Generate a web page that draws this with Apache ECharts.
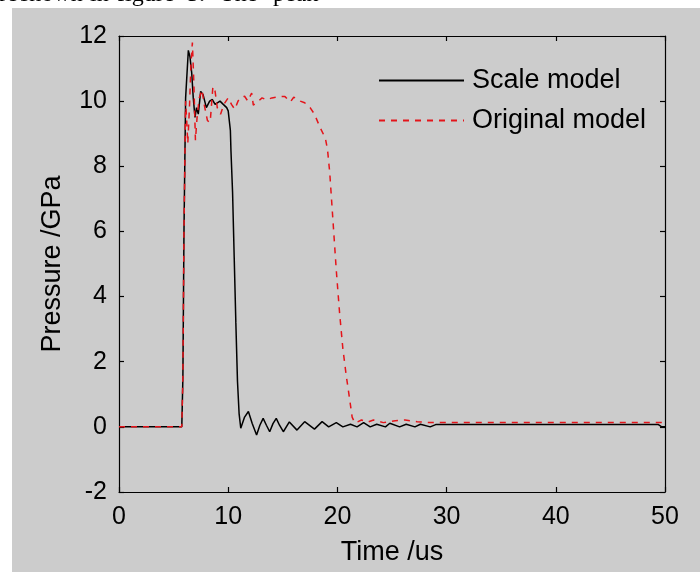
<!DOCTYPE html>
<html>
<head>
<meta charset="utf-8">
<script src="https://cdn.jsdelivr.net/npm/echarts@6/dist/echarts.min.js"></script>
<style>
html,body{margin:0;padding:0;background:#ffffff;}
#chart{width:700px;height:572px;}
</style>
</head>
<body>
<div id="chart"></div>
<script>
// Scale model (black solid)
const scaleT = [0, 5.75, 5.85, 5.95, 6.1, 6.2, 6.35, 6.5, 6.66, 6.8, 6.96, 7.1, 7.26, 7.48, 7.7, 8.0, 8.3, 8.55, 8.8, 9.25, 9.55, 9.86, 10.0, 10.2, 10.25, 10.4, 10.55, 10.7, 10.85, 11.0, 11.15, 11.5, 11.85, 12.2, 12.6, 12.9, 13.2, 13.5, 13.8, 14.1, 14.4, 14.7, 15.05, 15.6, 16.3, 17.0, 17.9, 18.6, 19.2, 19.9, 20.5, 21.2, 21.8, 22.4, 23.0, 23.6, 24.4, 24.8, 25.7, 26.3, 27.1, 27.6, 28.5, 29.0, 49.4, 49.7, 50];
const scaleP = [0, 0, 1.5, 6, 10.1, 10.1, 11.56, 11.36, 10.86, 10.1, 9.5, 9.8, 9.6, 10.3, 10.2, 9.8, 10.0, 10.05, 9.9, 10.0, 9.9, 9.8, 9.7, 9.1, 8.5, 7.2, 5.2, 3.2, 1.4, 0.4, -0.04, 0.3, 0.47, 0.1, -0.25, 0.05, 0.26, 0.05, -0.15, 0.1, 0.26, 0.05, -0.15, 0.15, -0.1, 0.16, -0.07, 0.16, 0.0, 0.13, 0.0, 0.08, 0.0, 0.13, 0.0, 0.08, 0.0, 0.11, 0.0, 0.08, 0.0, 0.08, 0.0, 0.07, 0.07, 0.0, 0.0];

// Original model (red dashed)
const origT = [0, 5.75, 5.85, 5.95, 6.1, 6.2, 6.3, 6.45, 6.6, 6.72, 6.85, 7.0, 7.15, 7.35, 7.6, 7.8, 8.1, 8.35, 8.6, 8.8, 9.0, 9.3, 9.6, 10.0, 10.3, 10.6, 10.9, 11.1, 11.5, 11.8, 12.15, 12.3, 12.7, 13.1, 13.5, 14.0, 14.7, 15.2, 15.7, 16.0, 16.4, 16.6, 17.0, 17.5, 17.9, 18.4, 18.9, 19.1, 19.3, 19.6, 19.9, 20.2, 20.5, 20.8, 21.1, 21.35, 21.6, 21.9, 22.2, 22.8, 23.3, 24.2, 25.3, 26.2, 27.3, 28.5, 50];
const origP = [0, 0, 1.5, 6, 10.0, 9.4, 8.7, 9.8, 11.2, 11.8, 10.6, 8.8, 9.5, 10.1, 10.35, 9.9, 9.4, 9.35, 10.45, 10.3, 9.8, 9.6, 9.9, 10.1, 9.9, 9.75, 10.0, 10.1, 10.15, 10.0, 10.25, 9.88, 9.98, 10.1, 10.04, 10.1, 10.14, 10.14, 9.98, 10.12, 10.05, 10.0, 9.95, 9.8, 9.6, 9.2, 8.86, 8.5, 7.8, 6.3, 4.8, 3.5, 2.4, 1.6, 0.9, 0.3, 0.12, 0.16, 0.21, 0.15, 0.21, 0.13, 0.19, 0.21, 0.16, 0.13, 0.13];

const seriesNames = ['Scale model', 'Original model'];
const xTicks = [0, 10, 20, 30, 40, 50];
const yTicks = [-2, 0, 2, 4, 6, 8, 10, 12];

const zip = (t, p) => t.map((v, i) => [v, p[i]]);
const FONT = 'Liberation Sans';
const tickFont = {color: '#000', fontSize: 25, fontFamily: FONT};
const nameFont = {color: '#000', fontSize: 27, fontFamily: FONT};

const chart = echarts.init(document.getElementById('chart'), null, {renderer: 'canvas'});
const baseX = {
  type: 'value', min: xTicks[0], max: xTicks[xTicks.length - 1], interval: 10,
  axisLine: {show: true, onZero: false, lineStyle: {color: '#000', width: 1.2}},
  axisTick: {show: true, inside: true, length: 5, lineStyle: {color: '#000', width: 1.2}},
  splitLine: {show: false}
};
const baseY = {
  type: 'value', min: yTicks[0], max: yTicks[yTicks.length - 1], interval: 2,
  axisLine: {show: true, onZero: false, lineStyle: {color: '#000', width: 1.2}},
  axisTick: {show: true, inside: true, length: 5, lineStyle: {color: '#000', width: 1.2}},
  splitLine: {show: false}
};
const serif = '24px "Liberation Serif"';
chart.setOption({
  animation: false,
  backgroundColor: 'transparent',
  graphic: [
    {type: 'rect', left: 12, top: 8, shape: {width: 688, height: 564}, style: {fill: '#cccccc'}, z: -10, silent: true},
    {type: 'text', x: -1, y: 7, style: {text: 're', font: serif, fill: '#000', textVerticalAlign: 'bottom'}},
    {type: 'text', x: 20, y: 7, style: {text: 'shown', font: serif, fill: '#000', textVerticalAlign: 'bottom'}},
    {type: 'text', x: 90, y: 7, style: {text: 'in', font: serif, fill: '#000', textVerticalAlign: 'bottom'}},
    {type: 'text', x: 117, y: 7, style: {text: 'figure', font: serif, fill: '#000', textVerticalAlign: 'bottom'}},
    {type: 'text', x: 187, y: 7, style: {text: '5.', font: serif, fill: '#000', textVerticalAlign: 'bottom'}},
    {type: 'text', x: 220, y: 7, style: {text: 'The', font: serif, fill: '#000', textVerticalAlign: 'bottom'}},
    {type: 'text', x: 273, y: 7, style: {text: 'peak', font: serif, fill: '#000', textVerticalAlign: 'bottom'}}
  ],
  grid: {left: 119, right: 35, top: 36, bottom: 80, containLabel: false},
  legend: {
    orient: 'vertical', left: 373, top: 62, itemWidth: 85, itemHeight: 14, itemGap: 13,
    itemStyle: {opacity: 0},
    textStyle: {color: '#000', fontSize: 27, fontFamily: FONT, padding: [0, 0, 0, 3]},
    data: seriesNames
  },
  xAxis: [
    Object.assign({}, baseX, {
      position: 'bottom',
      axisLabel: Object.assign({margin: 13}, tickFont),
      name: 'Time /us', nameLocation: 'middle', nameGap: 47,
      nameTextStyle: nameFont
    }),
    Object.assign({}, baseX, {position: 'top', axisLabel: {show: false}})
  ],
  yAxis: [
    Object.assign({}, baseY, {
      position: 'left',
      axisLabel: Object.assign({margin: 12}, tickFont),
      name: 'Pressure /GPa', nameLocation: 'middle', nameGap: 53,
      nameTextStyle: nameFont
    }),
    Object.assign({}, baseY, {position: 'right', axisLabel: {show: false}})
  ],
  series: [
    {name: seriesNames[0], type: 'line', symbol: 'none', data: zip(scaleT, scaleP),
     lineStyle: {color: '#000000', width: 1.5}, itemStyle: {color: '#000000'}},
    {name: seriesNames[1], type: 'line', symbol: 'none', data: zip(origT, origP),
     lineStyle: {color: '#e4141a', width: 1.5, type: [6, 6]}, itemStyle: {color: '#e4141a'}}
  ]
});
</script>
</body>
</html>
